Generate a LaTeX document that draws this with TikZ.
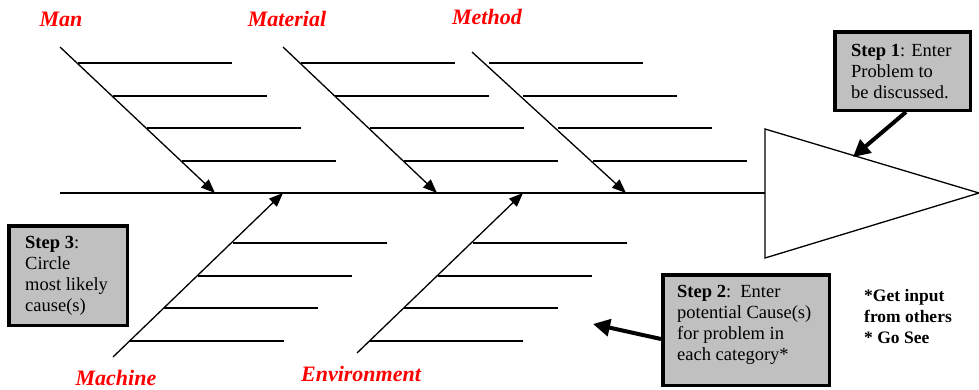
\documentclass[tikz,border=0pt]{standalone}
\usepackage{fontspec}
\setmainfont{Liberation Serif}
\usetikzlibrary{arrows.meta}
\definecolor{boxgray}{RGB}{192,192,192}
\begin{document}
\begin{tikzpicture}[x=1pt,y=-1pt,
  bone/.style={line width=1.3pt,-{Triangle[length=14pt,width=11pt]}},
  rib/.style={line width=1.3pt},
  cat/.style={font=\fontsize{22}{26}\selectfont\bfseries\itshape, text=red, inner sep=0pt},
  stepbox/.style={draw=black, line width=3.5pt, fill=boxgray, inner sep=0pt},
  boxtext/.style={align=left, anchor=west, font=\fontsize{18.5}{21}\selectfont, inner sep=0pt},
  callout/.style={line width=4pt,-{Triangle[length=17pt,width=17pt]}},
  note/.style={align=left, anchor=west, font=\fontsize{17.5}{21}\selectfont\bfseries, inner sep=0pt}]
\useasboundingbox (0,0) rectangle (979,389);

% spine and head
\coordinate (sL) at (60,193);
\coordinate (sR) at (765,193);
\draw[line width=1.5pt] (sL) -- (sR);
\coordinate (hT) at (765,129);
\coordinate (hTip) at (979,193);
\coordinate (hB) at (765,258);
\draw[line width=1.3pt] (hT) -- (hTip) -- (hB) -- cycle;

% bones
\coordinate (manS) at (60,47);   \coordinate (manE) at (215,193);
\coordinate (matS) at (283,47);  \coordinate (matE) at (437,193);
\coordinate (metS) at (472,52);  \coordinate (metE) at (626,193);
\coordinate (macS) at (113,357); \coordinate (macE) at (283,193);
\coordinate (envS) at (357,353); \coordinate (envE) at (523,193);
\draw[bone] (manS) -- (manE);
\draw[bone] (matS) -- (matE);
\draw[bone] (metS) -- (metE);
\draw[bone] (macS) -- (macE);
\draw[bone] (envS) -- (envE);

% ribs top
\foreach \y/\a/\b/\c in {63/78/301/489, 96/113/335/523, 128/147/370/558, 161/182/404/593}{
  \draw[rib] (\a,\y) -- ++(154,0);
  \draw[rib] (\b,\y) -- ++(154,0);
  \draw[rib] (\c,\y) -- ++(154,0);
}
% ribs bottom
\foreach \y/\a/\b in {243/233/473, 276/198/438, 308/164/404, 341/130/369}{
  \draw[rib] (\a,\y) -- ++(154,0);
  \draw[rib] (\b,\y) -- ++(154,0);
}

% category labels
\node[cat] (lman) at (61,19) {Man};
\node[cat] (lmat) at (287,19) {Material};
\node[cat] (lmet) at (487,17) {Method};
\node[cat] (lmac) at (116,378) {Machine};
\node[cat] (lenv) at (361,374) {Environment};

% step boxes
\node[stepbox, minimum width=135.5pt, minimum height=78.5pt] (s1) at (902.5,71) {};
\node[boxtext] (s1t) at (851,72) {\textbf{Step 1}: Enter\\Problem to\\be discussed.};
\node[stepbox, minimum width=118.5pt, minimum height=99.5pt] (s3) at (68,275.5) {};
\node[boxtext] (s3t) at (25,276) {\textbf{Step 3}:\\Circle\\most likely\\cause(s)};
\node[stepbox, minimum width=166.5pt, minimum height=110.5pt] (s2) at (746,330) {};
\node[boxtext] (s2t) at (677,325)
  {\textbf{Step 2}:\ \ Enter\\potential Cause(s)\\for problem in\\each category*};

% note
\node[note] (nt) at (864,317) {*Get input\\from others\\* Go See};

% callout arrows
\coordinate (t1) at (853,157);
\draw[callout] ([xshift=3.5pt]s1.south) -- (t1);
\coordinate (t2) at (593,324);
\draw[callout] ([yshift=-9pt]s2.west) -- (t2);
\end{tikzpicture}
\end{document}
